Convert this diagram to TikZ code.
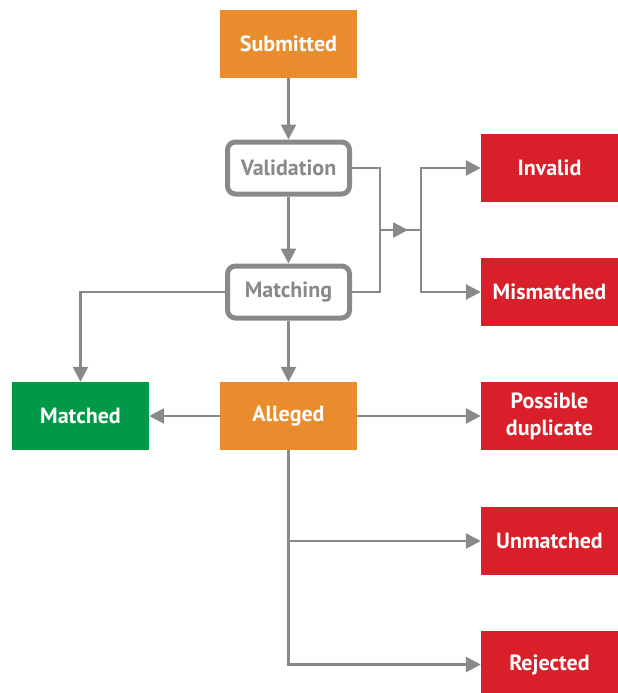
\documentclass[tikz,border=0pt]{standalone}
\usepackage{fontspec}
\setmainfont{PT Sans}
\usetikzlibrary{arrows.meta}
\definecolor{orng}{HTML}{E98C2E}
\definecolor{grn}{HTML}{009947}
\definecolor{rd}{HTML}{D91F29}
\definecolor{gry}{HTML}{898989}
\begin{document}
\begin{tikzpicture}[x=1pt,y=-1pt,
  lbl/.style={font=\bfseries\fontsize{22}{27}\selectfont},
  box/.style={lbl,minimum width=137pt,minimum height=68pt,inner sep=0pt,text=white,align=center},
  obox/.style={box,fill=orng},
  gbox/.style={box,fill=grn},
  rbox/.style={box,fill=rd},
  wbox/.style={lbl,minimum width=122pt,minimum height=52pt,inner sep=0pt,draw=gry,line width=5pt,rounded corners=8pt,fill=white,text=gry},
  conn/.style={draw=gry,line width=2.6pt},
  arr/.style={conn,-{Triangle[length=15pt,width=15pt]}}]
\useasboundingbox (0,0) rectangle (618,693);
\begin{scope}
\clip (0,0) rectangle (618,693);
\node[obox] (sub) at (288.5,44) {Submitted};
\node[wbox] (val) at (288.5,168) {Validation};
\node[wbox] (mat) at (288.5,292) {Matching};
\node[obox] (all) at (288.5,416) {Alleged};
\node[gbox] (mtd) at (80.5,416) {Matched};
\node[rbox] (inv) at (549.5,168) {Invalid};
\node[rbox] (mis) at (549.5,292) {Mismatched};
\node[rbox] (dup) at (549.5,416) {Possible\\duplicate};
\node[rbox] (unm) at (549.5,540.5) {Unmatched};
\node[rbox] (rej) at (549.5,664.5) {Rejected};
\end{scope}
\coordinate (j1) at (380,230);
\coordinate (j2) at (421,230);
\draw[arr] (sub) -- (val);
\draw[arr] (val) -- (mat);
\draw[arr] (mat) -- (all);
\draw[conn] (val.east) -| (j1);
\draw[conn] (mat.east) -| (j1);
\draw[arr] (j1) -- (408,230);
\draw[conn] (j1) -- (j2);
\draw[arr] (j2) |- (inv.west);
\draw[arr] (j2) |- (mis.west);
\draw[arr] (mat.west) -| (mtd.north);
\draw[arr] (all.west) -- (mtd.east);
\draw[arr] (all.east) -- (dup.west);
\draw[arr] (all.south) |- (rej.west);
\coordinate (j3) at (288.5,541);
\draw[arr] (j3) -- (unm.west |- j3);
\end{tikzpicture}
\end{document}
